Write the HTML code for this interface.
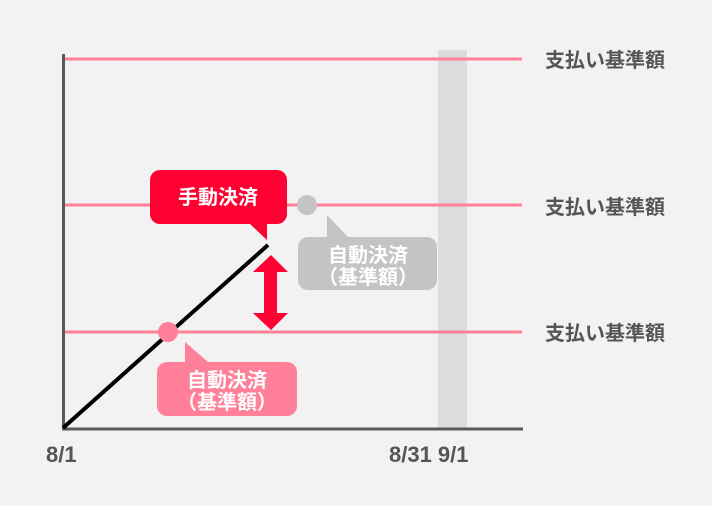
<!DOCTYPE html><html><head><meta charset="utf-8"><style>body{margin:0;background:#f2f2f2}svg{display:block}text{font-family:"Liberation Sans","Noto Sans CJK JP",sans-serif;font-weight:bold}</style></head><body>
<svg width="712" height="506" viewBox="0 0 712 506">
<rect width="712" height="506" fill="#f2f2f2"/>
<rect x="438" y="50" width="29" height="380" fill="#dcdcdc"/>
<g stroke="#ff8098" stroke-width="3"><line x1="65" y1="59" x2="522" y2="59"/><line x1="65" y1="205" x2="522" y2="205"/><line x1="65" y1="332" x2="522" y2="332"/></g>
<line x1="63.5" y1="54" x2="63.5" y2="430" stroke="#5a5a5a" stroke-width="3"/>
<line x1="62" y1="429" x2="523" y2="429" stroke="#5a5a5a" stroke-width="3"/>
<line x1="63" y1="428" x2="268" y2="245" stroke="#000" stroke-width="4"/>
<g fill="#555" font-size="20"><text x="545" y="67">支払い基準額</text><text x="545" y="214">支払い基準額</text><text x="545" y="340">支払い基準額</text></g>
<g fill="#555" font-size="22"><text x="46" y="462">8/1</text><text x="389" y="462">8/31 9/1</text></g>
<path d="M150,180 a10,10 0 0 1 10,-10 h117 a10,10 0 0 1 10,10 v34 a10,10 0 0 1 -10,10 h-10 v16 l-17,-16 h-90 a10,10 0 0 1 -10,-10z" fill="#ff0033"/>
<text x="218" y="204" fill="#fff" font-size="20" text-anchor="middle">手動決済</text>
<circle cx="307" cy="205" r="10" fill="#c4c4c4"/>
<path d="M298,247 a10,10 0 0 1 10,-10 h19 v-22 l21,22 h79 a10,10 0 0 1 10,10 v33 a10,10 0 0 1 -10,10 h-119 a10,10 0 0 1 -10,-10z" fill="#c4c4c4"/>
<text x="368" y="262" fill="#fff" font-size="20" text-anchor="middle">自動決済</text><text x="368" y="284" fill="#fff" font-size="20" text-anchor="middle">（基準額）</text>
<path d="M271,255 L288,272 H277 V313 H288 L271,330 L253,313 H264 V272 H253Z" fill="#ff0033"/>
<circle cx="168" cy="332" r="10" fill="#ff8098"/>
<path d="M157,372 a10,10 0 0 1 10,-10 h18 v-20 l23,20 h79 a10,10 0 0 1 10,10 v34 a10,10 0 0 1 -10,10 h-120 a10,10 0 0 1 -10,-10z" fill="#ff8098"/>
<text x="227" y="387" fill="#fff" font-size="20" text-anchor="middle">自動決済</text><text x="227" y="409" fill="#fff" font-size="20" text-anchor="middle">（基準額）</text>
</svg></body></html>
